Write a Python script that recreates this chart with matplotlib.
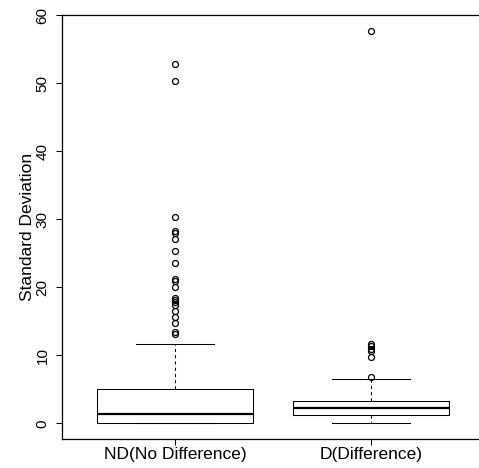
import matplotlib
matplotlib.use("Agg")
import matplotlib.pyplot as plt

# Group labels
groups = ["ND(No Difference)", "D(Difference)"]

# Five-number summaries per group
whisker_low = [0.0, 0.05]
quartile1 = [0.05, 1.2]
median = [1.35, 2.2]
quartile3 = [5.1, 3.35]
whisker_high = [11.7, 6.45]

# Outlying standard deviations per group
nd_outliers = [52.9, 50.4, 30.3, 28.3, 28.0, 27.1, 25.4, 23.6, 21.2, 20.9,
               20.0, 18.4, 18.1, 17.8, 17.4, 16.5, 15.6, 14.7, 13.4, 13.2]
d_outliers = [57.7, 11.7, 11.4, 11.0, 10.7, 9.8, 6.8]

y_ticks = [0, 10, 20, 30, 40, 50, 60]

plt.rcParams["font.family"] = ["Liberation Sans", "DejaVu Sans"]

W, H = 479, 468
fig = plt.figure(figsize=(W / 100, H / 100), dpi=100)
left, right, top, bottom = 62, 484, 15, 439
ax = fig.add_axes([left / W, 1 - bottom / H, (right - left) / W, (bottom - top) / H])

stats = []
for i, name in enumerate(groups):
    stats.append(dict(label=name, whislo=whisker_low[i], q1=quartile1[i],
                      med=median[i], q3=quartile3[i], whishi=whisker_high[i],
                      fliers=[nd_outliers, d_outliers][i]))

lw = 0.75
ax.bxp(stats, positions=[1, 2], widths=0.8, capwidths=0.4,
       boxprops=dict(color="black", linewidth=lw),
       whiskerprops=dict(color="black", linewidth=lw, linestyle=(0, (3, 3))),
       capprops=dict(color="black", linewidth=lw),
       medianprops=dict(color="black", linewidth=1.6),
       flierprops=dict(marker="o", markerfacecolor="none", markeredgecolor="black",
                       markersize=4.3, markeredgewidth=0.9))

fs = 12.5
ax.set_xlim(0.42, 2.58)
ax.set_ylim(-2.31, 60.06)
ax.set_yticks(y_ticks)
ax.set_yticklabels([str(t) for t in y_ticks], rotation=90, va="center", fontsize=11)
ax.set_xticks([1, 2])
ax.set_xticklabels(groups, fontsize=fs)
ax.tick_params(axis="both", length=4, width=0.75, color="black")
ax.tick_params(axis="y", pad=5)
ax.tick_params(axis="x", pad=2)
ax.set_ylabel("Standard Deviation", fontsize=fs)
ax.yaxis.set_label_coords((35 - left) / (right - left), 0.5)
for sp in ax.spines.values():
    sp.set_linewidth(0.9)
    sp.set_color("black")

fig.savefig("out.png", dpi=100)
